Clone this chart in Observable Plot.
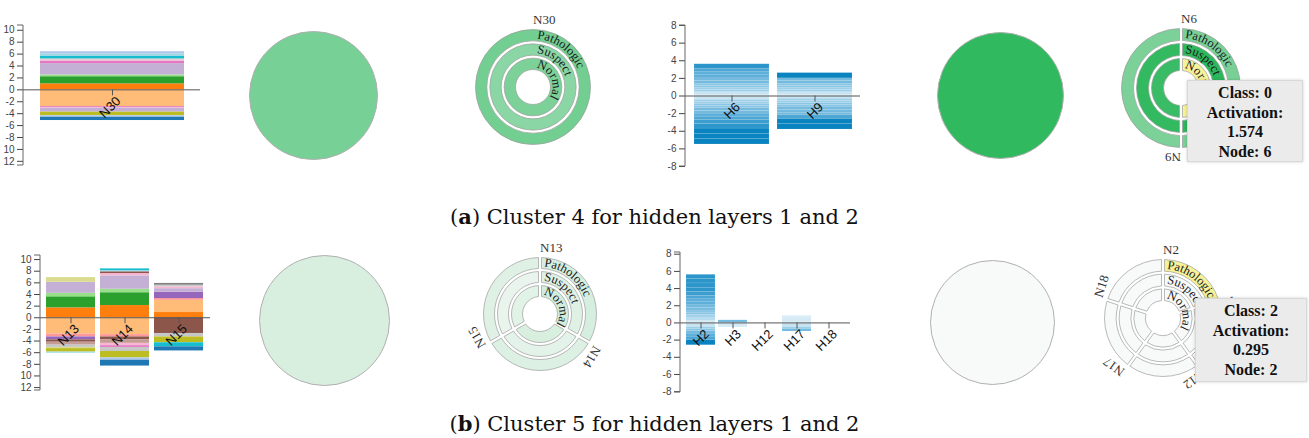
<!DOCTYPE html>
<html><head><meta charset="utf-8">
<script src="https://cdn.jsdelivr.net/npm/d3@7"></script>
<script src="https://cdn.jsdelivr.net/npm/@observablehq/plot@0.6"></script>
<style>
body{margin:0;background:#fff;}
#wrap{position:relative;width:1309px;height:438px;overflow:hidden;background:#fff;}
#wrap svg{position:absolute;left:0;top:0;}
.cap{position:absolute;left:0;width:1309px;text-align:center;font-family:"DejaVu Serif",serif;font-size:21px;color:#111;white-space:nowrap;}
.tip{position:absolute;z-index:5;background:#ebebeb;border:1px solid #d8d8d8;box-shadow:0 0 3px rgba(0,0,0,.18);font-family:"Liberation Serif",serif;font-weight:bold;font-size:16px;line-height:19.5px;color:#111;text-align:center;box-sizing:border-box;padding-top:2px;}
</style></head><body><div id="wrap"></div>
<script>
// ---------- data ----------
const FEATURES = ["F1","F2","F3","F4","F5","F6","F7","F8","F9","F10","F11","F12","F13","F14","F15","F16","F17","F18","F19","F20"];
const FEATURE_COLORS = ["#1f77b4","#aec7e8","#ff7f0e","#ffbb78","#2ca02c","#98df8a","#d62728","#ff9896","#9467bd","#c5b0d5","#8c564b","#c49c94","#e377c2","#f7b6d2","#7f7f7f","#c7c7c7","#bcbd22","#dbdb8d","#17becf","#9edae5"];
const CLASSES = ["Normal", "Suspect", "Pathologic"]; // inner -> outer ring

// layer-1 nodes: feature contributions, listed from zero outward (positive then negative)
const N30 = [["F3",1.0],["F5",1.2],["F6",0.3],["F10",1.9],["F13",0.4],["F14",0.2],["F16",0.2],["F19",0.4],["F20",0.4],["F2",0.4],
             ["F4",-2.8],["F13",-0.15],["F14",-0.15],["F10",-0.65],["F17",-0.6],["F2",-0.25],["F1",-0.55]];
const N13 = [["F3",1.7],["F5",1.9],["F6",0.6],["F10",1.9],["F18",0.8],
             ["F4",-2.8],["F8",-0.5],["F9",-0.5],["F11",-0.4],["F12",-0.5],["F16",-0.4],["F18",-0.2],["F17",-0.6],["F20",-0.2]];
const N14 = [["F3",2.1],["F5",2.2],["F6",0.6],["F10",2.3],["F14",0.4],["F11",0.3],["F20",0.2],["F19",0.3],
             ["F4",-2.9],["F8",-0.4],["F11",-0.5],["F12",-0.6],["F14",-0.4],["F13",-0.3],["F16",-0.7],["F17",-1.1],["F2",-0.4],["F1",-1.0]];
const N15 = [["F3",0.9],["F4",2.1],["F8",0.3],["F9",1.1],["F10",0.6],["F14",0.3],["F16",0.3],["F15",0.3],
             ["F11",-2.7],["F16",-0.6],["F17",-1.0],["F19",-0.7],["F1",-0.7]];
const layer1A = ["N30"];
const layer1B = ["N13", "N14", "N15"];

// layer-2 nodes: stacked contributions (stripes), from zero outward
const H6  = [0.1,0.1,0.15,0.15,0.2,0.2,0.25,0.25,0.3,0.3,0.35,0.35,0.4,0.5,
             -0.1,-0.1,-0.15,-0.15,-0.2,-0.2,-0.25,-0.25,-0.3,-0.3,-0.35,-0.4,-0.45,-0.5,-0.6,-0.6,-0.6];
const H9  = [0.1,0.1,0.15,0.15,0.2,0.2,0.25,0.25,0.3,0.3,0.6,
             -0.1,-0.15,-0.15,-0.2,-0.2,-0.25,-0.25,-0.3,-0.3,-0.3,-0.4,-0.6,-0.6];
const H2  = [0.05,0.1,0.1,0.15,0.15,0.2,0.2,0.25,0.25,0.3,0.3,0.35,0.35,0.4,0.45,0.5,0.5,0.5,0.5,
             -0.1,-0.1,-0.15,-0.15,-0.2,-0.25,-0.3,-0.35,-0.4,-0.6];
const H3  = [0.3, -0.1,-0.1,-0.1,-0.1,-0.1];
const H12 = [];
const H17 = [0.1,0.1,0.1,0.1,0.1,0.1,0.1,0.1, -0.1,-0.1,-0.15,-0.15,-0.2,-0.3];
const H18 = [];
const layer2A = ["H6", "H9"];
const layer2B = ["H2", "H3", "H12", "H17", "H18"];

// ring activations per node: [Normal, Suspect, Pathologic]
const ringA_nodes = ["N30"];
const ringA_acts  = [[0.98, 0.87, 1.05]];
const ringB_nodes = ["N13", "N14", "N15"];
const ringB_acts  = [[0.30, 0.20, 0.27], [0.25, 0.16, 0.22], [0.18, 0.12, 0.20]];
const ringC_nodes = ["N6", "N9"];
const ringC_acts  = [[1.574, 1.6, 1.0], [1.5, 1.55, 0.98]];
const ringD_nodes = ["N2", "N3", "N12", "N17", "N18"];
const ringD_acts  = [[0, 0, 0.295], [0, 0, 0], [0, 0, 0], [0, 0, 0], [0, 0, 0]];
const hoverC = {node: "N6", cls: "Normal", classId: 0, act: "1.574", nodeId: 6};
const hoverD = {node: "N2", cls: "Pathologic", classId: 2, act: "0.295", nodeId: 2};

// cluster mean activations (big circles)
const clusterActs = {a1: 1.02, a2: 1.58, b1: 0.25, b2: 0};
const captions = [["a", " Cluster 4 for hidden layers 1 and 2"], ["b", " Cluster 5 for hidden layers 1 and 2"]];

// ---------- drawing ----------
const W = 1309, H = 438;
const wrap = document.getElementById("wrap");
const GREEN = {type: "linear", domain: [0, 1.6], range: ["#f8f9f9", "#2db85c"], clamp: true};
const BLUES = {type: "linear", domain: [0, 0.15, 0.35, 0.6], range: ["#f5fafd", "#b3daee", "#5eafd9", "#0a84c0"], clamp: true};
const HOVER_FILL = "#f6f29a";
const BASE_STYLE = {background: "transparent", fontFamily: "Liberation Sans, Arial, sans-serif", fontSize: "10px", color: "#444"};

function frame(x0, x1, y0, y1) {
  return {width: W, height: H, marginLeft: x0, marginRight: W - x1, marginTop: y0, marginBottom: H - y1};
}
const yDomainLine = (index, scales, values, dims) => {
  const x = dims.marginLeft, y0 = dims.marginTop, y1 = dims.height - dims.marginBottom;
  return d3.create("svg:path").attr("d", `M${x-6},${y0}H${x}V${y1}H${x-6}`)
    .attr("fill", "none").attr("stroke", "#666").node();
};

function stackedPanel(nodes, segsByNode, box, yDomain, pad) {
  const rows = nodes.flatMap((n, i) => segsByNode[i].map(([f, v]) => ({node: n, feature: f, value: v})));
  return Plot.plot({
    ...frame(...box), style: BASE_STYLE,
    x: {domain: nodes, paddingInner: pad[0], paddingOuter: pad[1], axis: null},
    y: {domain: yDomain, ticks: d3.range(-12, 11, 2), tickSize: 6, label: null,
        tickFormat: d => d <= -10 ? String(-d) : String(d)},
    color: {type: "ordinal", domain: FEATURES, range: FEATURE_COLORS},
    marks: [
      Plot.barY(rows, {x: "node", y: "value", fill: "feature"}),
      Plot.ruleY([0], {stroke: "#555"}),
      Plot.ruleX(nodes, {x: d => d, y1: 0, y2: 0, insetBottom: -6, stroke: "#555"}),
      Plot.text(nodes, {x: d => d, y: 0, text: d => d, rotate: -45, textAnchor: "end", dx: 6, dy: 9, fontSize: 13, fill: "#111"}),
      yDomainLine
    ]
  });
}

function bluePanel(nodes, stripesByNode, box, yDomain, pad) {
  const rows = nodes.flatMap((n, i) => stripesByNode[i].map(v => ({node: n, value: v, mag: Math.abs(v)})));
  return Plot.plot({
    ...frame(...box), style: BASE_STYLE,
    x: {domain: nodes, paddingInner: pad[0], paddingOuter: pad[1], axis: null},
    y: {domain: yDomain, ticks: d3.range(-8, 9, 2), tickSize: 6, label: null, tickFormat: d => String(d)},
    color: BLUES,
    marks: [
      Plot.barY(rows, {x: "node", y: "value", fill: "mag", stroke: "#fff", strokeWidth: 0.4, strokeOpacity: 0.2}),
      Plot.ruleY([0], {stroke: "#555"}),
      Plot.ruleX(nodes, {x: d => d, y1: 0, y2: 0, insetBottom: -6, stroke: "#555"}),
      Plot.text(nodes, {x: d => d, y: 0, text: d => d, rotate: -45, textAnchor: "end", dx: 6, dy: 9, fontSize: 13, fill: "#111"}),
      yDomainLine
    ]
  });
}

function circlePanel(cx, cy, r, act) {
  return Plot.plot({
    ...frame(cx - r, cx + r, cy - r, cy + r), style: BASE_STYLE, color: GREEN,
    marks: [Plot.dot([act], {frameAnchor: "middle", r, fill: d => d, stroke: "#b0b0b0", strokeWidth: 1})]
  });
}

let ringId = 0;
function ringPanel(cx, cy, R, nodes, acts, hover) {
  const id = "ring" + (ringId++);
  const cells = nodes.flatMap((n, i) => CLASSES.map((c, j) => ({node: n, seg: i, ring: j, cls: c, act: acts[i][j]})));
  const multi = nodes.length > 1;
  const fallback = d3.scaleLinear(GREEN.domain, GREEN.range).clamp(true);
  return Plot.plot({
    ...frame(cx - R, cx + R, cy - R, cy + R), style: BASE_STYLE,
    x: {domain: [0, nodes.length], range: [0, 2 * Math.PI], axis: null},
    y: {domain: [0, 3], range: [16, R], axis: null},
    color: GREEN,
    marks: [
      Plot.dot(cells, {x: "seg", y: "ring", fill: "act", r: 0}),
      (index, scales, values, dims) => {
        const A = scales.x, Rr = scales.y, C = scales.color || fallback;
        const ox = dims.marginLeft + (dims.width - dims.marginLeft - dims.marginRight) / 2;
        const oy = dims.marginTop + (dims.height - dims.marginTop - dims.marginBottom) / 2;
        const g = d3.create("svg:g").attr("transform", `translate(${ox},${oy})`).attr("text-anchor", "start");
        const arc = d3.arc().padRadius(60);
        g.selectAll("path.cell").data(cells).join("path").attr("class", "cell")
          .attr("d", d => arc({innerRadius: Rr(d.ring) + 1.5, outerRadius: Rr(d.ring + 1) - 1.5,
                               startAngle: A(d.seg), endAngle: A(d.seg + 1), padAngle: multi ? 0.05 : 0}))
          .attr("fill", d => hover && d.node === hover.node && d.cls === hover.cls ? HOVER_FILL : C(d.act))
          .attr("stroke", "#9c9c9c").attr("stroke-width", 0.7);
        CLASSES.forEach((c, j) => {
          const rt = (Rr(j) + Rr(j + 1)) / 2 - 3.5;
          const a0 = A(0) + 0.02, a1 = a0 + Math.PI * 0.98;
          g.append("path").attr("id", `${id}-${j}`).attr("fill", "none")
            .attr("d", `M${rt * Math.sin(a0)},${-rt * Math.cos(a0)}A${rt},${rt} 0 0 1 ${rt * Math.sin(a1)},${-rt * Math.cos(a1)}`);
          g.append("text").attr("text-anchor", "start").attr("font-family", "Liberation Serif, serif").attr("font-size", 12.5).attr("fill", "#1a1a1a")
            .append("textPath").attr("href", `#${id}-${j}`).attr("startOffset", 3).text(c);
        });
        nodes.forEach((n, i) => {
          const a = A(i), rl = Rr(3) + 4;
          g.append("text").attr("transform", `translate(${rl * Math.sin(a)},${-rl * Math.cos(a)}) rotate(${a * 180 / Math.PI})`)
            .attr("text-anchor", "start").attr("font-family", "Liberation Serif, serif").attr("font-size", 13)
            .attr("fill", "#333").text(n);
        });
        return g.node();
      }
    ]
  });
}

function add(el) { wrap.appendChild(el); }

// row (a)
add(stackedPanel(layer1A, [N30], [23, 200, 25, 165], [-12.7, 10.8], [0.1, 0.1]));
add(circlePanel(313, 95, 64, clusterActs.a1));
add(ringPanel(533, 87, 59, ringA_nodes, ringA_acts, null));
add(bluePanel(layer2A, [H6, H9], [685, 860, 25, 166], [-8, 8], [0.1, 0.1]));
add(circlePanel(1000, 95, 63, clusterActs.a2));
add(ringPanel(1181, 88, 61, ringC_nodes, ringC_acts, hoverC));
// row (b)
add(stackedPanel(layer1B, [N13, N14, N15], [40, 210, 255, 390], [-12.5, 10.7], [0.09, 0.105]));
add(circlePanel(324, 320, 65, clusterActs.b1));
add(ringPanel(540, 314, 58, ringB_nodes, ringB_acts, null));
add(bluePanel(layer2B, [H2, H3, H12, H17, H18], [680, 850, 252, 392], [-8.1, 8.2], [0.08, 0.15]));
add(circlePanel(992, 322, 62, clusterActs.b2));
add(ringPanel(1163, 318, 60, ringD_nodes, ringD_acts, hoverD));

// tooltips
function tip(h, left, top, w, hgt) {
  const d = document.createElement("div");
  d.className = "tip";
  Object.assign(d.style, {left: left + "px", top: top + "px", width: w + "px", height: hgt + "px"});
  d.innerHTML = `Class: ${h.classId}<br>Activation:<br>${h.act}<br>Node: ${h.nodeId}`;
  wrap.appendChild(d);
}
tip(hoverC, 1187, 80, 116, 82);
tip(hoverD, 1195, 298, 112, 84);

// captions
[[218], [425]].forEach(([cy], i) => {
  const d = document.createElement("div");
  d.className = "cap";
  d.style.top = (cy - 14) + "px";
  d.innerHTML = `(<b>${captions[i][0]}</b>)${captions[i][1]}`;
  wrap.appendChild(d);
});
</script></body></html>
